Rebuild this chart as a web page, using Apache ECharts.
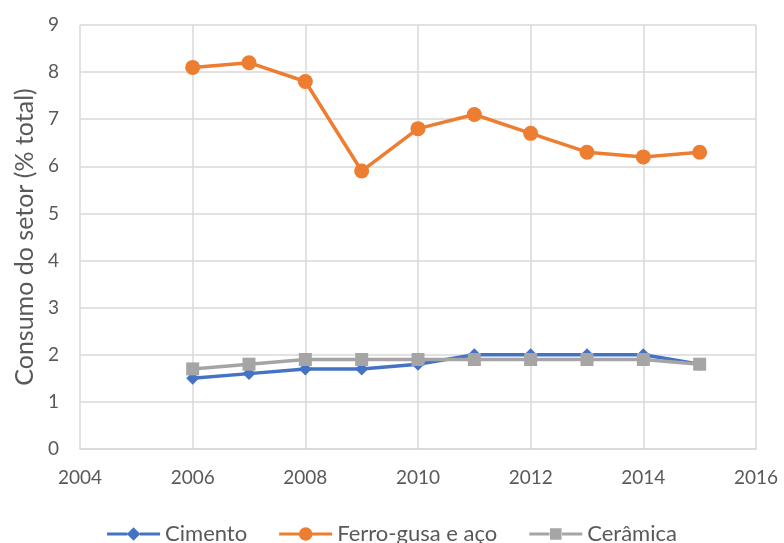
<!DOCTYPE html>
<html>
<head>
<meta charset="utf-8">
<script src="https://cdn.jsdelivr.net/npm/echarts@6/dist/echarts.min.js"></script>
<style>
html,body{margin:0;padding:0;background:#fff;}
#main{width:784px;height:543px;}
</style>
</head>
<body>
<div id="main"></div>
<script>
var years = [2006, 2007, 2008, 2009, 2010, 2011, 2012, 2013, 2014, 2015];
var cimento = [1.5, 1.6, 1.7, 1.7, 1.8, 2.0, 2.0, 2.0, 2.0, 1.8];
var ferro = [8.1, 8.2, 7.8, 5.9, 6.8, 7.1, 6.7, 6.3, 6.2, 6.3];
var ceramica = [1.7, 1.8, 1.9, 1.9, 1.9, 1.9, 1.9, 1.9, 1.9, 1.8];

function pairs(vals) {
    return years.map(function (y, i) { return [y, vals[i]]; });
}

// legend icons: thick line with marker in the middle
var lineParts = 'M0,5.5H21V8.5H0Z M34,5.5H55V8.5H34Z ';
var iconDiamond = 'path://' + lineParts + 'M27.5,0L34.5,7L27.5,14L20.5,7Z';
var iconCircle = 'path://' + lineParts + 'M20.5,7A7,7 0 1,1 34.5,7A7,7 0 1,1 20.5,7Z';
var iconSquare = 'path://' + lineParts + 'M21.5,1H33.5V13H21.5Z';

var chart = echarts.init(document.getElementById('main'));
var font = 'Lato, "Open Sans", sans-serif';
var option = {
    animation: false,
    textStyle: { fontFamily: font },
    grid: { left: 80, right: 28, top: 25, bottom: 94 },
    legend: {
        top: 518,
        left: 'center',
        itemWidth: 53,
        itemHeight: 14,
        itemGap: 32,
        textStyle: { fontSize: 22, color: '#595959', fontFamily: font },
        data: [
            { name: 'Cimento', icon: iconDiamond },
            { name: 'Ferro-gusa e aço', icon: iconCircle },
            { name: 'Cerâmica', icon: iconSquare }
        ]
    },
    xAxis: {
        type: 'value',
        min: 2004, max: 2016, interval: 2,
        axisLine: { show: true, lineStyle: { color: '#d9d9d9', width: 1.5 } },
        axisTick: { show: false },
        axisLabel: { color: '#595959', fontSize: 19, margin: 19, formatter: function (v) { return String(v); } },
        splitLine: { show: true, lineStyle: { color: '#d9d9d9', width: 1.5 } }
    },
    yAxis: {
        type: 'value',
        min: 0, max: 9, interval: 1,
        name: 'Consumo do setor (% total)',
        nameLocation: 'middle',
        nameGap: 43,
        nameTextStyle: { color: '#595959', fontSize: 25 },
        axisLine: { show: false },
        axisTick: { show: false },
        axisLabel: { color: '#595959', fontSize: 19, margin: 21 },
        splitLine: { show: true, lineStyle: { color: '#d9d9d9', width: 1.5 } }
    },
    series: [
        {
            name: 'Cimento', type: 'line', data: pairs(cimento),
            symbol: 'diamond', symbolSize: 13,
            lineStyle: { color: '#4472C4', width: 3.5 },
            itemStyle: { color: '#4472C4' }
        },
        {
            name: 'Ferro-gusa e aço', type: 'line', data: pairs(ferro),
            symbol: 'circle', symbolSize: 15,
            lineStyle: { color: '#ED7D31', width: 3.5 },
            itemStyle: { color: '#ED7D31' }
        },
        {
            name: 'Cerâmica', type: 'line', data: pairs(ceramica),
            symbol: 'rect', symbolSize: 13,
            lineStyle: { color: '#A5A5A5', width: 3.5 },
            itemStyle: { color: '#A5A5A5' }
        }
    ]
};
chart.setOption(option);
</script>
</body>
</html>
